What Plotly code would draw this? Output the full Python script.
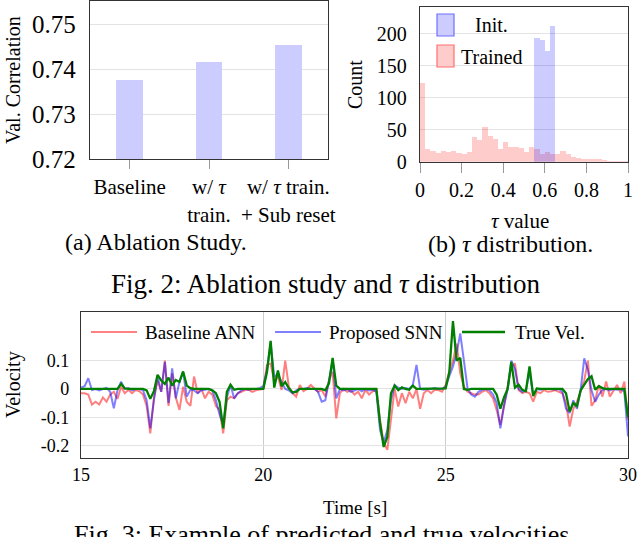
import numpy as np
import plotly.graph_objects as go

# ---------------- data ----------------
ablation_categories = ["Baseline", "w/ <i>τ</i><br>train.", "w/ <i>τ</i> train.<br>+ Sub reset"]
ablation_values = [0.7377, 0.7416, 0.7454]

tau_bin_width = 0.025
tau_bin_centers = np.linspace(0.0125, 0.9875, 40)
trained_counts = [123, 21, 17, 14, 17, 15, 17, 14, 12, 16,
                  39, 35, 54, 41, 36, 21, 32, 23, 23, 22,
                  16, 23, 21, 13, 15, 13, 13, 17, 13, 8,
                  7, 5, 4, 4, 4, 3, 2, 2, 1, 1]
init_bin_centers = [0.5625, 0.5875, 0.6125, 0.6375]
init_counts = [193, 191, 174, 213]

time_s = np.linspace(15.0, 30.0, 151)
true_vel = [0, 0, 0, 0, 0, 0, 0, 0, 0, 0,
            0, 0.018, 0.002, 0, 0, 0, 0, 0, -0.005, -0.035,
            -0.008, 0.05, 0.03, 0.018, 0.04, 0.012, 0.032, 0.025, 0.062, 0.012,
            0.003, 0, 0, 0, 0, 0, -0.005, -0.015, -0.045, -0.139,
            -0.01, 0.015, -0.003, 0, 0, 0, 0, 0, 0, 0,
            0, 0.06, 0.17, 0.005, 0.065, 0.01, 0.025, 0.002, -0.012, -0.01,
            0, 0, 0, 0, 0, 0, 0, -0.005, 0.02, 0.11,
            0.012, 0, 0, 0, 0, 0, 0, 0, 0, 0,
            0, 0, -0.12, -0.205, -0.17, -0.015, 0.012, -0.004, 0.006, 0,
            -0.003, 0.012, 0, 0, 0, 0, 0, 0, 0, 0,
            0.002, 0.06, 0.24, 0.1, 0.11, 0.0, -0.003, 0, 0, 0,
            0, 0, 0, 0, -0.02, -0.07, -0.03, 0, 0.096, 0.005,
            0.015, -0.003, -0.008, 0.08, -0.025, 0.002, 0, 0, 0, 0,
            0, 0, 0, -0.015, -0.08, -0.05, -0.06, -0.005, 0.015, 0.035,
            0.045, -0.003, 0.01, 0.003, 0, 0, 0, 0, 0, 0,
            -0.1]
snn_vel = [0.005, 0.01, 0.038, -0.004, 0, -0.005, 0, 0.004, -0.01, -0.068,
           -0.005, 0.026, 0, 0.003, -0.005, 0, 0, -0.005, -0.04, -0.139,
           -0.04, 0.044, -0.01, 0.096, -0.05, 0.073, -0.033, 0.025, 0.06, -0.027,
           -0.003, -0.005, -0.015, -0.005, -0.003, 0, -0.005, -0.04, -0.09, -0.127,
           -0.03, 0.014, -0.033, -0.015, -0.005, 0, -0.003, 0, 0, 0.003,
           0.01, 0.067, 0.16, 0.044, 0.05, 0.026, 0, -0.005, -0.015, -0.005,
           0, 0, 0.003, 0, 0, -0.01, -0.045, -0.04, 0.03, 0.1,
           -0.033, 0, -0.005, 0, -0.01, -0.005, 0, -0.008, 0, -0.005,
           -0.003, -0.01, -0.145, -0.19, -0.145, -0.04, 0.014, 0.004, 0, 0.003,
           0, 0.014, 0.085, 0, -0.003, 0, 0, 0.003, 0, 0,
           0.008, 0.045, 0.08, 0.126, 0.196, 0.1, 0.002, -0.02, -0.027, -0.01,
           -0.003, 0, -0.005, -0.02, -0.05, -0.139, -0.06, 0, 0.1, 0.07,
           0, -0.01, -0.005, 0.06, -0.02, 0, -0.003, 0, 0, 0,
           -0.003, 0, -0.01, -0.07, -0.085, -0.04, -0.07, -0.005, 0.108, 0.067,
           -0.005, -0.045, -0.02, -0.003, 0, -0.005, 0, -0.003, 0, -0.01,
           -0.168]
ann_vel = [-0.015, -0.015, -0.02, -0.055, -0.045, -0.055, -0.03, -0.045, -0.02, -0.01,
           -0.035, 0.008, -0.015, -0.004, -0.015, -0.004, -0.008, -0.02, -0.06, -0.157,
           -0.03, 0.03, -0.01, 0.1, -0.06, 0.055, -0.03, -0.074, 0.008, -0.045,
           -0.06, 0.044, -0.015, 0.002, -0.033, -0.01, -0.02, -0.06, -0.075, -0.157,
           -0.04, -0.027, -0.033, -0.015, -0.01, -0.004, -0.003, -0.01, -0.005, -0.003,
           0, 0.085, 0.09, 0.026, 0.044, -0.004, 0.1, 0.008, -0.015, -0.027,
           0.014, -0.008, 0, 0.014, 0.002, -0.01, -0.004, -0.027, 0.03, 0.06,
           -0.104, -0.015, 0, -0.01, -0.005, -0.02, -0.01, -0.033, -0.003, -0.02,
           -0.008, -0.004, -0.11, -0.19, -0.215, -0.1, 0, -0.062, -0.015, -0.05,
           -0.01, -0.033, 0, -0.07, -0.015, -0.004, -0.015, -0.003, -0.004, -0.01,
           0.014, 0.06, 0.1, 0.16, 0.055, 0.008, -0.01, -0.015, -0.02, -0.02,
           -0.01, -0.004, -0.015, -0.033, -0.075, -0.127, -0.06, 0.008, 0.078, 0.09,
           -0.004, -0.015, -0.01, -0.015, -0.045, -0.01, -0.015, -0.004, -0.01, -0.008,
           -0.004, -0.01, -0.015, -0.05, -0.133, -0.07, -0.045, -0.01, 0.03, 0.1,
           -0.06, -0.04, 0.014, -0.027, 0.026, -0.027, -0.004, 0.014, -0.015, 0.026,
           -0.11]

assert len(true_vel) == len(snn_vel) == len(ann_vel) == len(time_s)

# ---------------- figure ----------------
W, H = 640, 537
FONT = "Liberation Serif, Times New Roman, serif"


def px(x):
    return x / W


def py(y):
    return 1 - y / H


fig = go.Figure()

# (a) ablation bars
fig.add_trace(go.Bar(x=ablation_categories, y=ablation_values, width=0.34,
                     marker=dict(color="#ccccff", line=dict(width=0)),
                     xaxis="x", yaxis="y", showlegend=False))

# (b) tau histograms
fig.add_trace(go.Bar(x=tau_bin_centers, y=trained_counts, width=tau_bin_width,
                     marker=dict(color="rgba(255,0,0,0.2)", line=dict(width=0)),
                     xaxis="x2", yaxis="y2", showlegend=False, name="Trained"))
fig.add_trace(go.Bar(x=init_bin_centers, y=init_counts, width=tau_bin_width,
                     marker=dict(color="rgba(0,0,255,0.2)", line=dict(width=0)),
                     xaxis="x2", yaxis="y2", showlegend=False, name="Init."))

# (c) velocities
fig.add_trace(go.Scatter(x=time_s, y=ann_vel, mode="lines",
                         line=dict(color="rgba(255,0,0,0.5)", width=2),
                         xaxis="x3", yaxis="y3", showlegend=False, name="Baseline ANN"))
fig.add_trace(go.Scatter(x=time_s, y=snn_vel, mode="lines",
                         line=dict(color="rgba(0,0,255,0.5)", width=2),
                         xaxis="x3", yaxis="y3", showlegend=False, name="Proposed SNN"))
fig.add_trace(go.Scatter(x=time_s, y=true_vel, mode="lines",
                         line=dict(color="#008000", width=2.3),
                         xaxis="x3", yaxis="y3", showlegend=False, name="True Vel."))

axis_line = dict(showline=True, mirror=True, linecolor="#333333", linewidth=1.3,
                 zeroline=False, automargin=False)

fig.update_layout(
    width=W, height=H,
    margin=dict(l=0, r=0, t=0, b=0, autoexpand=False),
    paper_bgcolor="white", plot_bgcolor="white",
    barmode="overlay", bargap=0,
    font=dict(family=FONT, color="black"),
    xaxis=dict(domain=[px(90), px(328)], range=[-0.5, 2.5], anchor="y",
               ticks="outside", ticklen=9, tickcolor="#999999", tickwidth=1,
               ticklabelstandoff=0, showgrid=False,
               tickfont=dict(size=21), **axis_line),
    yaxis=dict(domain=[py(159), py(1)], range=[0.72, 0.7553], anchor="x",
               tickvals=[0.72, 0.73, 0.74, 0.75],
               ticktext=["0.72", "0.73", "0.74", "0.75"],
               ticks="", ticklabelstandoff=8, showgrid=True, gridcolor="#e3e3e3",
               tickfont=dict(size=25), **axis_line),
    xaxis2=dict(domain=[px(420), px(628)], range=[0, 1], anchor="y2",
                tickvals=[0, 0.2, 0.4, 0.6, 0.8, 1],
                ticktext=["0", "0.2", "0.4", "0.6", "0.8", "1"],
                ticks="outside", ticklen=10, tickcolor="#999999",
                ticklabelstandoff=0, showgrid=False,
                tickfont=dict(size=20), **axis_line),
    yaxis2=dict(domain=[py(161.7), py(6.7)], range=[0, 242], anchor="x2",
                tickvals=[0, 50, 100, 150, 200],
                ticks="", ticklabelstandoff=8, showgrid=True, gridcolor="#e3e3e3",
                tickfont=dict(size=20), **axis_line),
    xaxis3=dict(domain=[px(81), px(628)], range=[15, 30], anchor="y3",
                tickvals=[15, 20, 25, 30], ticks="", ticklabelstandoff=0,
                showgrid=True, gridcolor="#cccccc", gridwidth=1.3,
                tickfont=dict(size=18), **axis_line),
    yaxis3=dict(domain=[py(458), py(312)], range=[-0.244, 0.272], anchor="x3",
                tickvals=[-0.2, -0.1, 0, 0.1],
                ticktext=["-0.2", "-0.1", "0", "0.1"],
                ticks="", ticklabelstandoff=7, showgrid=True, gridcolor="#e3e3e3",
                tickfont=dict(size=18), **axis_line),
)

annotations = []


def add_text(text, x, y, size, angle=0, xanchor="center", yanchor="middle"):
    annotations.append(dict(text=text, x=px(x), y=py(y), xref="paper", yref="paper",
                            showarrow=False, textangle=angle, xanchor=xanchor,
                            yanchor=yanchor, font=dict(size=size, family=FONT, color="black")))


add_text("Val. Correlation", 13, 80, 20, angle=-90)
add_text("(a) Ablation Study.", 156, 242, 24)
add_text("Count", 355, 85, 20, angle=-90)
add_text("<i>τ</i> value", 520, 221, 21)
add_text("(b) <i>τ</i> distribution.", 510, 244, 24)
add_text("Fig. 2: Ablation study and <i>τ</i> distribution", 325, 284, 27)
add_text("Velocity", 13, 385, 20, angle=-90)
add_text("Time [s]", 355, 507, 19)
add_text("Fig. 3: Example of predicted and true velocities", 321, 534, 26)

# legend (b)
add_text("Init.", 491, 25, 20)
add_text("Trained", 491, 57, 20)
# legend (c)
add_text("Baseline ANN", 143, 332, 19, xanchor="left")
add_text("Proposed SNN", 327, 332, 19, xanchor="left")
add_text("True Vel.", 513, 332, 19, xanchor="left")

fig.update_layout(annotations=annotations)

shapes = [
    dict(type="rect", xref="paper", yref="paper", x0=px(437), x1=px(454), y0=py(36), y1=py(14),
         fillcolor="#ccccff", line=dict(color="#6f6fff", width=1.2), layer="above"),
    dict(type="rect", xref="paper", yref="paper", x0=px(437), x1=px(454), y0=py(67), y1=py(45),
         fillcolor="#ffcccc", line=dict(color="#ff7070", width=1.2), layer="above"),
    dict(type="line", xref="paper", yref="paper", x0=px(91), x1=px(137), y0=py(332), y1=py(332),
         line=dict(color="#ff8080", width=2), layer="above"),
    dict(type="line", xref="paper", yref="paper", x0=px(275), x1=px(321), y0=py(332), y1=py(332),
         line=dict(color="#8080ff", width=2), layer="above"),
    dict(type="line", xref="paper", yref="paper", x0=px(462), x1=px(505), y0=py(332), y1=py(332),
         line=dict(color="#008000", width=2.3), layer="above"),
]
fig.update_layout(shapes=shapes)

fig.write_html("out.html",
               config={"displayModeBar": False},
               post_script="document.body.style.margin='0px';document.body.style.overflow='hidden';")
